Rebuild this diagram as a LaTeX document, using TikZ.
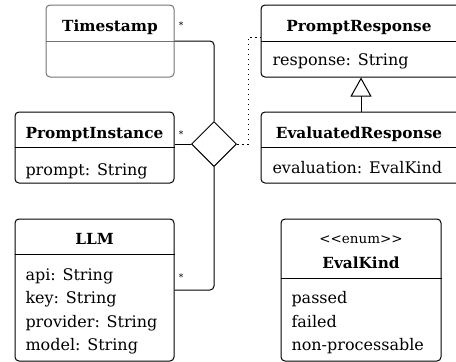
\documentclass[tikz,border=0pt]{standalone}
\usepackage{fontspec}
\setmainfont{DejaVu Serif}
\newfontfamily\plainserif{DejaVu Serif}
\usetikzlibrary{arrows.meta,shapes.geometric,calc}

\begin{document}
\begin{tikzpicture}[
            x=1pt, y=-1pt,
            line width=1pt,
            font=\fontsize{16}{18}\selectfont,
            classbox/.style={draw, rounded corners=4pt, inner sep=0pt},
            title/.style={anchor=base, inner sep=0pt, font=\fontsize{15.3}{17}\selectfont\bfseries},
            attr/.style={anchor=base west, inner sep=0pt},
            mult/.style={inner sep=0pt, font=\small}
        ]
            \useasboundingbox (0,0) rectangle (456,362);

            % --- Classe Timestamp (bordo grigio) ---
            \node[classbox, draw=black!55, minimum width=128pt, minimum height=72pt] (ts) at (110,41) {};
            \node[title] (tstitle) at (110,31) {Timestamp};
            \draw[black!55] (ts.west) -- (ts.east);

            % --- Classe PromptInstance ---
            \node[classbox, minimum width=159pt, minimum height=71pt] (pi) at (94.5,147.5) {};
            \node[title] (pititle) at (94.5,138) {PromptInstance};
            \draw ($(pi.north west)+(0,36)$) -- ($(pi.north east)+(0,36)$);
            \node[attr] (piprompt) at (25,175.5) {prompt: String};

            % --- Classe LLM ---
            \node[classbox, minimum width=159pt, minimum height=142pt] (llm) at (94.5,290) {};
            \node[title] (llmtitle) at (94.5,244) {LLM};
            \draw ($(llm.north west)+(0,36)$) -- ($(llm.north east)+(0,36)$);
            \foreach \t [count=\i] in {api: String, key: String, provider: String, model: String}
                \node[attr] (llm-\i) at (25, 280+23.6*\i-23.6) {\t};

            % --- Classe PromptResponse ---
            \node[classbox, minimum width=200pt, minimum height=72pt] (pr) at (361,41) {};
            \node[title] (prtitle) at (359,31) {PromptResponse};
            \draw (pr.west) -- (pr.east);
            \node[attr] (prresp) at (272,65) {response: String};

            % --- Classe EvaluatedResponse ---
            \node[classbox, minimum width=200pt, minimum height=71pt] (er) at (361,147.5) {};
            \node[title] (ertitle) at (359,138) {EvaluatedResponse};
            \draw ($(er.north west)+(0,36)$) -- ($(er.north east)+(0,36)$);
            \node[attr] (ereval) at (272,173) {evaluation: EvalKind};

            % --- Enumerazione EvalKind ---
            \node[classbox, minimum width=160pt, minimum height=142pt] (ek) at (361,290) {};
            \node[anchor=base, inner sep=0pt, font=\plainserif\fontsize{13.5}{15}\selectfont] (ekstereo) at (361,243) {<<enum>>};
            \node[title] (ektitle) at (361,268) {EvalKind};
            \draw ($(ek.north west)+(0,60)$) -- ($(ek.north east)+(0,60)$);
            \foreach \t [count=\i] in {passed, failed, non-processable}
                \node[attr] (ek-\i) at (291, 303.5+23.6*\i-23.6) {\t};

            % --- Associazione ternaria (rombo) ---
            \node[diamond, draw, fill=white, minimum width=45pt, minimum height=45pt, inner sep=0pt] (dia) at (214,144) {};
            \draw[rounded corners=4pt] (ts.east) -| (dia.north);
            \draw (pi.east |- dia.west) -- (dia.west);
            \draw[rounded corners=4pt] (dia.south) |- (llm.east);

            % molteplicita'
            \node[mult] (tsmult) at (181,25) {*};
            \node[mult] (pimult) at (181,134) {*};
            \node[mult] (llmmult) at (181,277) {*};

            % --- Classe di associazione (tratteggio) ---
            \draw[dash pattern=on 1.5pt off 3.5pt] (dia.east) -- ++(11,0) |- ([yshift=4pt]pr.west);

            % --- Generalizzazione ---
            \draw[-{Triangle[open, width=21pt, length=19pt]}] (er.north) -- (pr.south);

    \end{tikzpicture}
\end{document}
